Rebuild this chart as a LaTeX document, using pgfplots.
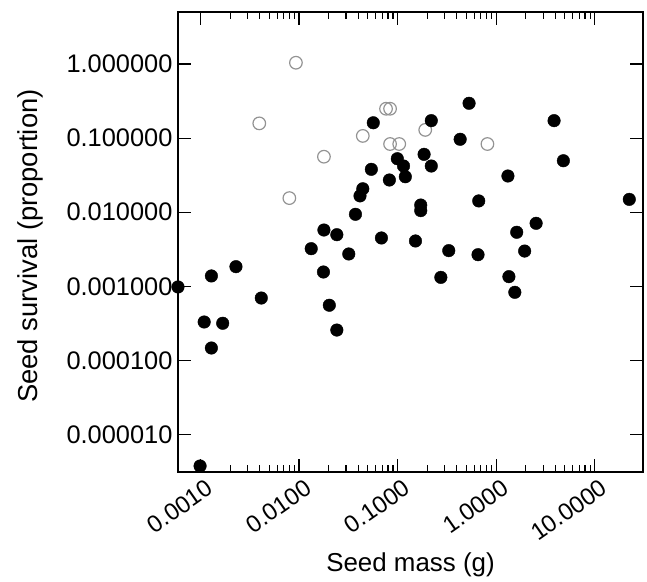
\documentclass[border=0pt]{standalone}
\usepackage{pgfplots}
\pgfplotsset{compat=1.18}
\usepackage{fontspec}
\setmainfont{Liberation Sans}

\begin{document}
\begin{tikzpicture}
\useasboundingbox (-178bp,-110bp) rectangle (469bp,472bp);
\begin{axis}[
  scale only axis, width=465bp, height=460bp,
  xmode=log, ymode=log,
  xmin=5.91e-4, xmax=31, ymin=3.12e-6, ymax=5.03,
  axis line style={line width=1.2bp},
  major tick length=13bp, minor tick length=7bp,
  every tick/.style={black, line width=1.1bp},
  xtick={0.001,0.01,0.1,1,10},
  xticklabels={0.0010,0.0100,0.1000,1.0000,10.0000},
  ytick={1,0.1,0.01,0.001,0.0001,0.00001},
  yticklabels={1.000000,0.100000,0.010000,0.001000,0.000100,0.000010},
  yticklabel style={font=\fontsize{25.5}{30}\selectfont, xshift=-2bp},
  xticklabel style={font=\fontsize{24}{29}\selectfont, xshift=5bp, yshift=-5bp, rotate=35, anchor=north east, inner sep=1bp},
  xlabel={Seed mass (g)},
  ylabel={Seed survival (proportion)},
  xlabel style={font=\fontsize{26}{31}\selectfont, at={(axis description cs:0.5,0)}, anchor=center, yshift=-93bp},
  ylabel style={font=\fontsize{27.5}{33}\selectfont, at={(axis description cs:-0.317,0.491)}, anchor=center},
  clip=false,
]
\addplot[only marks, mark=o, mark size=6.3bp, gray!85, mark options={line width=1.2bp}] coordinates {
(0.0093,1.04) (0.00395,0.158) (0.0764,0.249) (0.0840,0.249) (0.0444,0.107)
(0.191,0.129) (0.0179,0.0561) (0.084,0.0832) (0.104,0.0832) (0.817,0.0832)
(0.00798,0.0155)
};
\addplot[only marks, mark=*, mark size=6.3bp, black] coordinates {
(0.532,0.295) (0.0567,0.161) (0.220,0.172) (3.88,0.172) (0.432,0.0964)
(4.82,0.0495) (0.186,0.0604) (0.0995,0.0527) (0.115,0.0420) (0.220,0.0420)
(0.0542,0.0379) (0.120,0.0301) (0.0826,0.0272) (1.32,0.0308) (0.0444,0.0207)
(0.0416,0.0166) (22.5,0.0149) (0.667,0.0142) (0.172,0.0125) (0.172,0.0105)
(0.0374,0.00937) (0.0179,0.00575) (0.0242,0.00497) (2.55,0.00708) (1.62,0.00536)
(0.0686,0.00449) (0.152,0.00409) (0.0133,0.00322) (0.0320,0.00273) (0.331,0.00303)
(0.656,0.00267) (1.95,0.00299) (0.00229,0.00184) (0.00129,0.00138) (0.0177,0.00156)
(0.275,0.00132) (1.35,0.00135) (5.91e-4,0.00098) (1.55,0.00083) (0.00414,0.000695)
(0.00109,0.00033) (0.00168,0.000317) (0.0203,0.000555) (0.0242,0.000257) (0.00129,0.000147)
(0.00099,3.76e-6)
};
\end{axis}
\end{tikzpicture}
\end{document}
